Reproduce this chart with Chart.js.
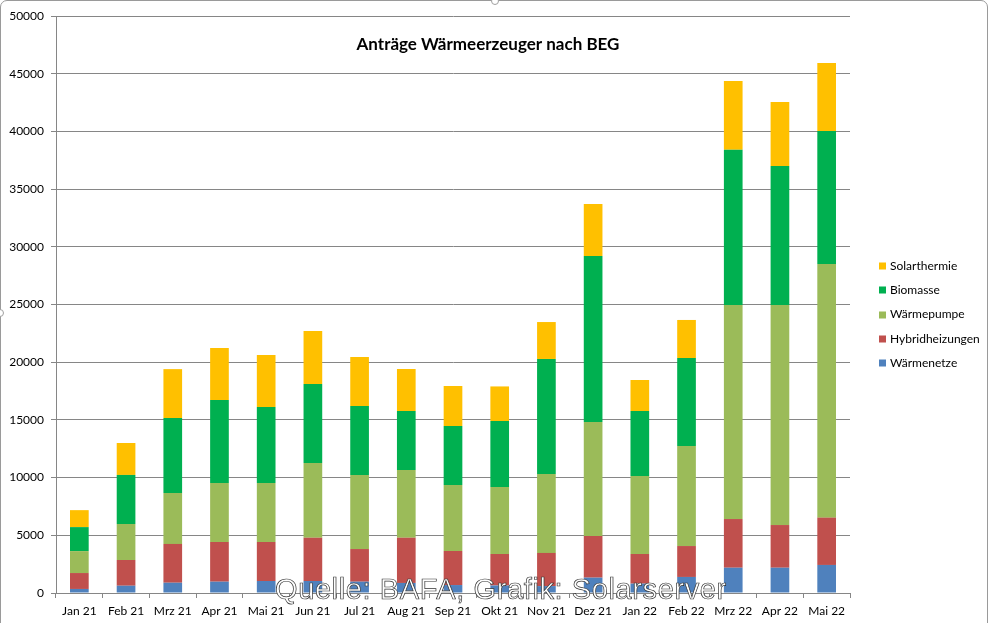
<!DOCTYPE html>
<html>
<head>
<meta charset="utf-8">
<script src="https://cdn.jsdelivr.net/npm/chart.js@4.4.0/dist/chart.umd.min.js"></script>
<style>
  html, body { margin: 0; padding: 0; background: #fff; }
  #wrap { position: relative; width: 991px; height: 623px; overflow: hidden; }
  #frame { position: absolute; left: 0; top: 0; width: 988px; height: 700px; border: 1px solid #9a9a9a; border-radius: 7px; box-sizing: border-box; pointer-events: none; }
  .handle { position: absolute; width: 8px; height: 8px; border: 1px solid #a0a0a0; border-radius: 50%; background: #fff; box-sizing: border-box; }
  #wm { position: absolute; left: 275px; top: 572px; font-family: "Liberation Sans", Arial, sans-serif; font-size: 29px; letter-spacing: 0.6px; color: #fff; -webkit-text-stroke: 0.7px #333; white-space: nowrap; line-height: 34px; pointer-events: none; }
</style>
</head>
<body>
<div id="wrap">
  <canvas id="c" width="991" height="623"></canvas>
  <div id="frame"></div>
  <div class="handle" style="left:491px; top:-3px;"></div>
  <div class="handle" style="left:-4px; top:309px;"></div>
  <div id="wm">Quelle: BAFA, Grafik: Solarserver</div>
</div>
<script>
const categories = ["Jan 21","Feb 21","Mrz 21","Apr 21","Mai 21","Jun 21","Jul 21","Aug 21","Sep 21","Okt 21","Nov 21","Dez 21","Jan 22","Feb 22","Mrz 22","Apr 22","Mai 22"];
const waermenetze    = [350, 630, 890, 980, 1040, 1040, 980, 870, 690, 650, 600, 1330, 810, 1390, 2190, 2190, 2430];
const hybridheizungen = [1380, 2230, 3360, 3440, 3380, 3750, 2830, 3920, 2950, 2730, 2870, 3610, 2570, 2680, 4220, 3700, 4100];
const waermepumpe    = [1900, 3120, 4420, 5110, 5110, 6480, 6420, 5870, 5720, 5810, 6840, 9880, 6760, 8670, 18550, 19070, 21980];
const biomasse       = [2080, 4250, 6490, 7190, 6590, 6840, 5970, 5110, 5110, 5710, 9970, 14380, 5630, 7620, 13450, 12040, 11520];
const solarthermie   = [1470, 2770, 4240, 4510, 4500, 4590, 4250, 3640, 3470, 3000, 3200, 4510, 2690, 3300, 5960, 5550, 5900];
const seriesNames = ["Wärmenetze","Hybridheizungen","Wärmepumpe","Biomasse","Solarthermie"];
const seriesColors = ["#4F81BD","#C0504D","#9BBB59","#00B050","#FFC000"];
const yTicks = [0,5000,10000,15000,20000,25000,30000,35000,40000,45000,50000];
const chartTitle = "Anträge Wärmeerzeuger nach BEG";

const seriesData = [waermenetze, hybridheizungen, waermepumpe, biomasse, solarthermie];
const FONT = "Lato, 'Open Sans', sans-serif";

const overlay = {
  id: 'overlay',
  afterDraw(chart) {
    const ctx = chart.ctx;
    ctx.save();
    ctx.fillStyle = '#000';
    ctx.font = "bold 17px " + FONT;
    ctx.textAlign = 'center';
    ctx.textBaseline = 'alphabetic';
    ctx.fillText(chartTitle, 488, 50);
    // legend (reversed order)
    ctx.font = "12px " + FONT;
    ctx.textAlign = 'left';
    ctx.textBaseline = 'middle';
    const ds = chart.data.datasets;
    for (let i = ds.length - 1, k = 0; i >= 0; i--, k++) {
      const cy = 266 + k * 24.3;
      ctx.fillStyle = ds[i].backgroundColor;
      ctx.fillRect(879, Math.round(cy) - 3.5, 7, 7);
      ctx.fillStyle = '#000';
      ctx.fillText(ds[i].label, 890, cy);
    }
    ctx.restore();
  }
};

new Chart(document.getElementById('c'), {
  type: 'bar',
  data: {
    labels: categories,
    datasets: seriesNames.map((n, i) => ({
      label: n,
      data: seriesData[i],
      backgroundColor: seriesColors[i],
      borderWidth: 0,
      categoryPercentage: 1.0,
      barPercentage: 0.4
    }))
  },
  options: {
    responsive: false,
    animation: false,
    devicePixelRatio: 1,
    layout: { padding: { top: 16, right: 141, bottom: 0, left: 0 } },
    plugins: { legend: { display: false }, title: { display: false }, tooltip: { enabled: false } },
    scales: {
      x: {
        stacked: true,
        afterFit(s) { s.height = 30; },
        grid: { display: true, drawOnChartArea: false, tickLength: 5, color: '#868686', offset: true },
        border: { color: '#868686', width: 1 },
        ticks: { font: { family: FONT, size: 12 }, color: '#000', padding: 6, maxRotation: 0, autoSkip: false }
      },
      y: {
        stacked: true,
        min: 0, max: 50000,
        afterFit(s) { s.width = 56; },
        afterBuildTicks(s) { s.ticks = yTicks.map(v => ({ value: v })); },
        grid: { color: '#868686', tickLength: 5, lineWidth: 1 },
        border: { color: '#868686', width: 1 },
        ticks: { font: { family: FONT, size: 12 }, color: '#000', padding: 7, callback: v => String(v) }
      }
    }
  },
  plugins: [overlay]
});
</script>
</body>
</html>
